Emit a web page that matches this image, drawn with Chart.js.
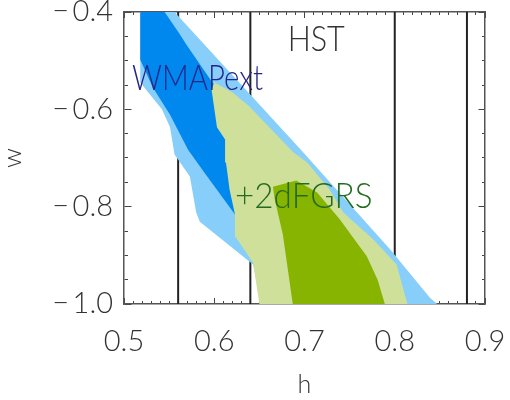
<!DOCTYPE html>
<html>
<head>
<meta charset="utf-8">
<script src="https://cdn.jsdelivr.net/npm/chart.js@4.4.0/dist/chart.umd.min.js"></script>
<style>
  html, body { margin: 0; padding: 0; background: #fff; }
  #wrap { width: 510px; height: 400px; }
</style>
</head>
<body>
<div id="wrap"><canvas id="hwChart"></canvas></div>
<script>
//contour outlines, [h, w] vertices
const wmapOuter = [[0.518,-0.40],[0.556,-0.40],[0.698,-0.687],[0.795,-0.888],[0.839,-0.987],[0.847,-1.00],
  [0.653,-1.00],[0.643,-0.919],[0.584,-0.831],[0.580,-0.812],[0.573,-0.738],[0.556,-0.693],
  [0.551,-0.637],[0.542,-0.600],[0.518,-0.545]];
const wmapInner = [[0.518,-0.40],[0.545,-0.40],[0.562,-0.446],[0.569,-0.467],[0.598,-0.545],[0.606,-0.560],
  [0.622,-0.680],[0.628,-0.800],[0.623,-0.816],[0.589,-0.730],[0.571,-0.683],[0.551,-0.611],
  [0.532,-0.555],[0.518,-0.498]];
const tdfOuter = [[0.600,-0.545],[0.620,-0.565],[0.639,-0.594],[0.661,-0.637],[0.687,-0.687],[0.703,-0.709],
  [0.728,-0.765],[0.743,-0.812],[0.776,-0.867],[0.802,-0.919],[0.814,-1.00],[0.650,-1.00],
  [0.643,-0.915],[0.624,-0.863],[0.623,-0.816],[0.617,-0.765],[0.613,-0.709],[0.612,-0.662],
  [0.603,-0.637],[0.597,-0.559]];
const tdfInner = [[0.665,-0.759],[0.691,-0.746],[0.714,-0.771],[0.739,-0.826],[0.769,-0.902],[0.781,-0.950],
  [0.789,-1.00],[0.687,-1.00],[0.680,-0.909],[0.676,-0.857],[0.667,-0.785]];

//HST key project h limits (1 and 2 sigma)
const hstLimits = [0.56, 0.64, 0.80, 0.88];

const labelTexts = ['HST', 'WMAPext', '+2dFGRS'];

const FONT = 'Lato, "Open Sans", sans-serif';

function toPts(arr) {
  return arr.map(p => ({x: p[0], y: p[1]}));
}

function contour(arr, color) {
  return {
    data: toPts(arr),
    showLine: true,
    fill: 'shape',
    backgroundColor: color,
    borderColor: 'transparent',
    borderWidth: 1,
    pointRadius: 0,
    tension: 0
  };
}

let datasets = [
  contour(tdfInner, '#86b400'),
  contour(tdfOuter, '#cfe09a'),
  contour(wmapInner, '#0088ee'),
  contour(wmapOuter, '#87cefa')
];
hstLimits.forEach(h => {
  datasets.push({
    data: [{x: h, y: -1.0}, {x: h, y: -0.4}],
    showLine: true,
    fill: false,
    borderColor: '#222',
    borderWidth: 2,
    pointRadius: 0
  });
});

//label placement (data coords), squeeze = horizontal scale
const labelSpots = [
  {h: 0.713, w: -0.481, align: 'center', color: '#333', size: 36, squeeze: 0.85},
  {h: 0.509, w: -0.561, align: 'left', color: '#25258a', size: 35, squeeze: 0.84},
  {h: 0.623, w: -0.802, align: 'left', color: '#236b1f', size: 35, squeeze: 0.95}
];

const labelPlugin = {
  id: 'plotLabels',
  afterDatasetsDraw(chart) {
    const ctx = chart.ctx;
    const xs = chart.scales.x, ys = chart.scales.y;
    labelTexts.forEach((t, i) => {
      const s = labelSpots[i];
      ctx.save();
      ctx.font = '300 ' + s.size + 'px ' + FONT;
      ctx.fillStyle = s.color;
      ctx.textAlign = s.align;
      ctx.textBaseline = 'alphabetic';
      ctx.translate(xs.getPixelForValue(s.h), ys.getPixelForValue(s.w));
      ctx.scale(s.squeeze, 1);
      ctx.fillText(t, 0, 0);
      ctx.restore();
    });
  }
};

function isMajor(v, step) {
  const r = v / step;
  return Math.abs(r - Math.round(r)) < 1e-6;
}

//inward ticks on both sides, drawn as short dashes of the grid lines
function tickDash(step, major, minor, horiz) {
  return function(c) {
    if (c.type !== 'tick' || !c.chart.chartArea) return [];
    const a = c.chart.chartArea;
    const span = horiz ? a.height : a.width;
    const len = isMajor(c.tick.value, step) ? major : minor;
    return [len, span - 2 * len, len, 2000];
  };
}

new Chart('hwChart', {
  type: 'scatter',
  data: {datasets: datasets},
  options: {
    responsive: true,
    maintainAspectRatio: false,
    animation: false,
    layout: {padding: {top: 12, right: 25, left: 0, bottom: 0}},
    plugins: {legend: {display: false}, tooltip: {enabled: false}},
    scales: {
      x: {
        type: 'linear', position: 'bottom', min: 0.5, max: 0.9,
        afterFit: s => { s.height = 96; s.paddingRight = 0; },
        ticks: {
          stepSize: 0.01, autoSkip: false, maxRotation: 0, padding: 20,
          color: '#333', font: {family: FONT, size: 29, weight: '300'},
          callback: v => isMajor(v, 0.1) ? v.toFixed(1) : ''
        },
        grid: {drawTicks: false, color: '#444', lineWidth: 1},
        border: {color: '#555', width: 1.5, dash: tickDash(0.1, 6, 3, true)},
        title: {display: true, text: 'h', color: '#333', padding: 0,
          font: {family: FONT, size: 25, weight: '300'}}
      },
      y: {
        type: 'linear', position: 'left', min: -1.0, max: -0.4,
        afterFit: s => { s.width = 124; s.paddingTop = 0; s.paddingBottom = 0; },
        ticks: {
          stepSize: 0.05, autoSkip: false, padding: 11,
          color: '#333', font: {family: FONT, size: 29, weight: '300'},
          callback: v => isMajor(v, 0.2) ? '\u2212\u2009' + Math.abs(v).toFixed(1) : ''
        },
        grid: {drawTicks: false, color: '#444', lineWidth: 1},
        border: {color: '#555', width: 1.5, dash: tickDash(0.2, 7, 3.5, false)},
        title: {display: true, text: 'w', color: '#333', padding: 0,
          font: {family: FONT, size: 26, weight: '300', lineHeight: 1.0}}
      },
      x2: {
        type: 'linear', position: 'top', min: 0.5, max: 0.9,
        afterFit: s => { s.height = 0; },
        ticks: {display: false}, grid: {display: false, drawTicks: false},
        border: {color: '#555', width: 1.5}
      },
      y2: {
        type: 'linear', position: 'right', min: -1.0, max: -0.4,
        afterFit: s => { s.width = 0; },
        ticks: {display: false}, grid: {display: false, drawTicks: false},
        border: {color: '#555', width: 1.5}
      }
    }
  },
  plugins: [labelPlugin]
});
</script>
</body>
</html>
